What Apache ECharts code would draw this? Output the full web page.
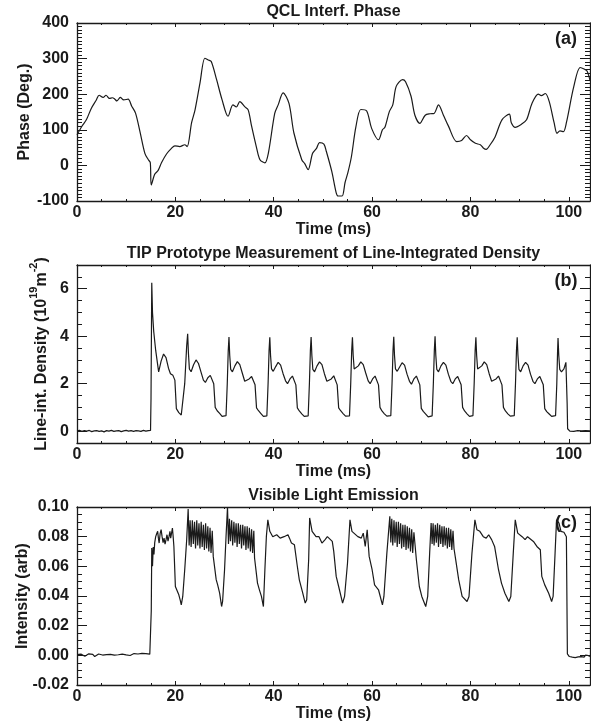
<!DOCTYPE html>
<html><head><meta charset="utf-8">
<script src="https://cdn.jsdelivr.net/npm/echarts@6/dist/echarts.min.js"></script>
<style>html,body{margin:0;padding:0;background:#fff}#c{width:591px;height:723px}</style>
</head><body><div id="c"></div>
<script>
// ---------- DATA ----------
const timeTicks = [0, 20, 40, 60, 80, 100];
const phaseTicks = [-100, 0, 100, 200, 300, 400];
const densityTicks = [0, 2, 4, 6];
const intensityTicks = [-0.02, 0, 0.02, 0.04, 0.06, 0.08, 0.10];

const titles = ['QCL Interf. Phase', 'TIP Prototype Measurement of Line-Integrated Density', 'Visible Light Emission'];
const yTitles = ['Phase (Deg.)', '{n|Line-int. Density (10}{s|19}{n|m}{s|-2}{n|)}', 'Intensity (arb)'];
const xTitle = 'Time (ms)';
const panelTags = ['(a)', '(b)', '(c)'];

// Panel (a): [time ms, phase deg]
const phaseA = [
[0,86],[1,110],[1.9,128],[2.9,160],[3.9,183],[4.5,197],[5.3,191],[5.9,197],[6.6,188],[7.2,190],
[7.7,186],[8.1,181],[8.8,191],[9.5,184],[10.4,186],[11.1,167],[11.9,147],[12.8,95],[13.8,34],[14.5,16],
[14.9,8],[15.1,-55],[15.8,-25],[16.5,-14],[17.2,8],[18.2,32],[19.2,48],[19.9,55],[20.9,53],[21.9,58],
[22.4,53],[23.3,120],[24,156],[25,231],[26,301],[26.7,296],[27.3,292],[28.4,240],[29.5,184],[30.7,138],
[31.7,170],[32.4,164],[33.1,179],[34.1,165],[34.8,156],[35.5,110],[36.5,50],[37.2,16],[38.2,7],[38.9,34],
[40.2,146],[40.9,170],[41.9,204],[43.1,174],[44.1,91],[45.7,16],[46.3,5],[47,-12],[47.9,34],[48.7,48],
[49.3,64],[50.2,60],[50.7,39],[51.8,-17],[52.7,-77],[53.1,-86],[53.9,-86],[54.5,-48],[55.1,-19],[55.8,25],
[56.7,108],[57.7,157],[58.9,153],[59.9,104],[61.3,72],[62.1,100],[62.6,107],[63.5,151],[64.2,170],[64.9,222],
[66.2,241],[66.8,235],[67.9,195],[68.7,141],[69.7,118],[70.8,141],[71.8,145],[72.6,146],[73.5,170],[74.5,141],
[75.5,111],[77.2,67],[78.2,70],[79.2,84],[80,72],[81,62],[82,58],[82.6,49],[83.2,45],[84,58],
[85,80],[86.4,128],[87.9,144],[88.3,120],[89.1,107],[90.3,115],[91.4,128],[92.5,174],[93.8,200],[94.4,196],
[95.2,202],[96,180],[97,120],[97.6,90],[98.2,97],[98.9,95],[99.5,120],[101,221],[102.3,275],[103.2,270],
[103.7,265],[104.3,239]
];

// Panel (b): [time ms, line-integrated density 1e19 m^-2]
const densityB = [
[0,0.01],[0.5,0.03],[1,-0.01],[1.5,0.02],[2,0],[2.5,0.03],[3,-0.02],[3.5,0.01],[4,0.02],[4.5,-0.01],
[5,0.01],[5.5,-0.03],[6,0.02],[6.5,0],[7,0.03],[7.5,-0.01],[8,0.01],[8.5,0.02],[9,-0.02],[9.5,0.01],
[10,0.03],[10.5,0],[11,0.02],[11.5,-0.01],[12,0.02],[12.5,0.01],[13,-0.01],[13.5,0.03],[14,0],[14.5,0.02],[14.95,0.03],
[15.05,1.4],[15.15,1.45],[15.2,6.25],[15.35,5.0],[15.6,4.2],[16.0,3.4],[16.6,2.5],[17.1,2.95],[17.6,3.25],[18.1,3.1],
[18.6,2.65],[19.0,2.42],[19.5,2.35],[19.9,2.15],[20.2,0.95],[20.7,0.78],[21.2,0.68],[21.6,0.65],[21.9,2.0],[22.3,3.6],
[22.5,4.10],[22.65,3.3],[22.85,2.62],[23.2,2.5],[23.7,2.8],[24.2,3.0],[24.7,2.85],[25.2,2.5],[25.7,2.15],[26.1,2.05],
[26.6,2.25],[27.1,2.35],[27.5,2.28],[27.8,2.0],[28.1,1.0],[28.5,0.86],[29.0,0.75],[29.5,0.62],[29.9,0.6],[30.3,0.65],[30.55,2.0],[30.75,3.4],
[30.9,3.97],[31.05,3.2],[31.25,2.6],[31.6,2.5],[32.1,2.75],[32.6,2.93],[33.1,2.8],[33.6,2.45],[34.1,2.1],[34.5,2.02],
[35.0,2.2],[35.5,2.3],[35.9,2.25],[36.2,1.95],[36.5,0.98],[36.9,0.86],[37.4,0.74],[37.9,0.62],[38.3,0.6],[38.6,0.64],[38.85,2.0],[39.05,3.4],
[39.2,3.95],[39.35,3.2],[39.55,2.62],[39.9,2.52],[40.4,2.72],[40.9,2.9],[41.4,2.78],[41.9,2.42],[42.4,2.12],[42.8,2.0],
[43.3,2.2],[43.8,2.32],[44.2,2.25],[44.5,1.95],[44.8,0.98],[45.2,0.85],[45.7,0.73],[46.2,0.62],[46.6,0.6],[47.0,0.64],[47.25,2.0],[47.45,3.4],
[47.6,3.97],[47.75,3.2],[47.95,2.6],[48.3,2.5],[48.8,2.75],[49.3,2.92],[49.8,2.8],[50.3,2.42],[50.8,2.1],[51.2,2.02],
[51.7,2.2],[52.2,2.33],[52.6,2.26],[52.9,1.95],[53.2,0.98],[53.6,0.86],[54.1,0.74],[54.6,0.63],[55.0,0.6],[55.4,0.64],[55.65,2.0],[55.85,3.4],
[56.0,3.95],[56.15,3.2],[56.35,2.62],[56.7,2.55],[57.2,2.75],[57.7,2.92],[58.2,2.8],[58.7,2.45],[59.2,2.12],[59.6,2.0],
[60.1,2.2],[60.6,2.32],[61.0,2.25],[61.3,1.95],[61.6,1.0],[62.0,0.85],[62.5,0.73],[63.0,0.63],[63.4,0.62],[63.8,0.65],[64.05,2.0],[64.25,3.4],
[64.4,3.98],[64.55,3.2],[64.75,2.62],[65.1,2.52],[65.6,2.7],[66.1,2.88],[66.6,2.78],[67.1,2.4],[67.6,2.1],[68.0,1.98],
[68.5,2.2],[69.0,2.32],[69.4,2.25],[69.7,1.95],[70.0,0.96],[70.4,0.83],[70.9,0.72],[71.4,0.6],[71.8,0.6],[72.2,0.64],[72.45,2.0],[72.65,3.4],
[72.8,4.0],[72.95,3.2],[73.15,2.6],[73.5,2.5],[74.0,2.75],[74.5,2.9],[75.0,2.78],[75.5,2.4],[76.0,2.1],[76.4,2.0],
[76.9,2.2],[77.4,2.3],[77.8,2.25],[78.1,1.95],[78.4,1.0],[78.8,0.85],[79.3,0.73],[79.8,0.62],[80.2,0.62],[80.5,0.65],[80.75,2.0],[80.95,3.4],
[81.1,3.95],[81.25,3.2],[81.45,2.62],[81.8,2.55],[82.3,2.75],[82.8,2.92],[83.3,2.8],[83.8,2.42],[84.3,2.1],[84.7,2.02],
[85.2,2.2],[85.7,2.32],[86.1,2.25],[86.4,1.95],[86.7,1.0],[87.1,0.85],[87.6,0.73],[88.1,0.63],[88.5,0.62],[88.9,0.65],[89.15,2.0],[89.35,3.4],
[89.5,3.95],[89.65,3.2],[89.85,2.6],[90.2,2.5],[90.7,2.75],[91.2,2.9],[91.7,2.78],[92.2,2.4],[92.7,2.1],[93.1,2.0],
[93.6,2.2],[94.1,2.3],[94.5,2.25],[94.8,1.95],[95.1,0.95],[95.5,0.82],[96.0,0.72],[96.5,0.62],[96.9,0.62],[97.3,0.65],[97.55,2.0],[97.7,3.3],
[97.8,3.92],[97.95,3.2],[98.15,2.6],[98.5,2.5],[99.0,2.62],[99.4,2.9],[99.55,2.85],[99.65,1.2],[99.75,0.1],[99.9,0.02],
[100.2,0],[100.6,0.02],[101.0,-0.01],[101.4,0.01],[101.8,0.02],[102.2,0],[102.6,0.01],[103.0,-0.01],[103.4,0.02],[103.8,0],[104.3,0.01]
];

// Panel (c): [time ms, intensity arb]
const intensityC = [
[0,0.0005],[0.4,-0.0003],[0.8,0.0008],[1.2,0.0001],[1.6,-0.0006],[2.0,0.0004],[2.4,0.0010],[2.8,-0.0002],[3.2,0.0006],[3.6,-0.0008],
[4.0,0.0003],[4.4,0.0009],[4.8,-0.0004],[5.2,0.0002],[5.6,-0.0009],[6.0,0.0005],[6.4,-0.0003],[6.8,0.0007],[7.2,-0.0006],[7.6,0.0001],
[8.0,-0.0010],[8.4,0.0004],[8.8,-0.0002],[9.2,0.0008],[9.6,-0.0005],[10.0,0.0003],[10.4,0.0010],[10.8,-0.0001],[11.2,0.0006],[11.6,0.0012],
[12.0,0.0002],[12.4,0.0009],[12.8,0.0004],[13.2,0.0013],[13.6,0.0006],[14.0,0.0011],[14.4,0.0003],[14.8,0.0008],[15.0,0.0004],
[15.1,0.030],[15.2,0.0723],[15.35,0.060],[15.5,0.073],[15.65,0.068],[15.8,0.076],[16.0,0.080],[16.2,0.082],[16.4,0.0836],[16.55,0.079],
[16.7,0.0757],[16.9,0.082],[17.1,0.0847],[17.3,0.080],[17.5,0.076],[17.7,0.0791],[17.9,0.075],[18.1,0.078],[18.3,0.0813],[18.5,0.077],
[18.7,0.080],[18.9,0.0836],[19.05,0.079],[19.2,0.0791],[19.4,0.0858],[19.55,0.080],[19.7,0.0734],[19.85,0.060],[20.0,0.0464],[20.2,0.047],
[20.4,0.0453],[20.7,0.0408],[21.0,0.037],[21.2,0.034],[21.5,0.0397],[21.9,0.0577],[22.3,0.0779],
[22.6,0.0986],[22.8,0.074],[23.0,0.091],[23.2,0.073],[23.45,0.091],[23.65,0.075],[23.9,0.090],[24.1,0.072],[24.35,0.091],[24.55,0.074],
[24.8,0.089],[25.0,0.072],[25.25,0.090],[25.45,0.073],[25.7,0.088],[25.9,0.071],[26.15,0.089],[26.35,0.072],[26.6,0.087],[26.8,0.070],
[27.05,0.086],[27.25,0.069],[27.5,0.084],[27.7,0.0667],
[28.3,0.051],[28.6,0.0475],[29.0,0.0419],[29.4,0.0329],[29.6,0.0363],[30.0,0.0577],[30.3,0.080],
[30.6,0.100],[30.8,0.075],[31.0,0.092],[31.2,0.077],[31.45,0.091],[31.65,0.074],[31.9,0.090],[32.1,0.076],[32.35,0.089],[32.55,0.073],
[32.8,0.089],[33.0,0.075],[33.25,0.088],[33.45,0.072],[33.7,0.088],[33.9,0.074],[34.15,0.087],[34.35,0.071],[34.6,0.087],[34.8,0.072],
[35.05,0.086],[35.25,0.070],[35.5,0.085],[35.7,0.069],[35.95,0.084],[36.1,0.0656],
[36.7,0.0487],[37.1,0.044],[37.5,0.0397],[37.9,0.0329],[38.2,0.0577],[38.5,0.080],
[38.8,0.0914],[39.2,0.0836],[39.8,0.080],[40.6,0.0813],[41.3,0.079],[42.1,0.080],[42.9,0.0813],[43.2,0.079],[43.6,0.0757],[44.2,0.0746],
[44.5,0.0746],[44.8,0.0599],[45.2,0.0509],[45.9,0.0419],[46.4,0.0352],[46.7,0.0374],[47.1,0.0644],
[47.3,0.0926],[47.8,0.0836],[48.6,0.080],[49.2,0.080],[49.8,0.0757],[50.4,0.0779],[50.9,0.080],[51.3,0.080],[51.9,0.0768],[52.2,0.0701],
[52.7,0.0532],[53.2,0.0464],[54.0,0.0352],[54.4,0.0397],[55.0,0.0622],
[55.5,0.0914],[55.9,0.0836],[56.3,0.0824],[57.1,0.080],[57.8,0.079],[58.2,0.0824],[58.6,0.0734],[59.0,0.0847],[59.4,0.0667],[60.0,0.0577],
[60.5,0.0475],[61.3,0.0442],[62.1,0.034],[62.4,0.0397],[63.0,0.0689],
[63.6,0.0937],[63.8,0.076],[64.0,0.092],[64.2,0.074],[64.45,0.091],[64.65,0.076],[64.9,0.090],[65.1,0.073],[65.35,0.090],[65.55,0.075],
[65.8,0.089],[66.0,0.072],[66.25,0.088],[66.45,0.073],[66.7,0.088],[66.9,0.071],[67.15,0.087],[67.35,0.072],[67.6,0.086],[67.8,0.070],
[68.05,0.085],[68.25,0.069],[68.5,0.083],
[69.0,0.0644],[69.6,0.0464],[70.1,0.0397],[70.9,0.0329],[71.3,0.0397],[71.7,0.0689],
[72.0,0.0892],[72.2,0.075],[72.4,0.089],[72.6,0.074],[72.85,0.088],[73.05,0.076],[73.3,0.089],[73.5,0.073],[73.75,0.088],[73.95,0.075],
[74.2,0.087],[74.4,0.073],[74.65,0.087],[74.85,0.074],[75.1,0.086],[75.3,0.072],[75.55,0.086],[75.75,0.073],[76.0,0.085],[76.2,0.071],
[76.45,0.084],[76.65,0.072],
[77.0,0.0644],[77.6,0.051],[78.3,0.0397],[79.3,0.0363],[79.7,0.0397],[80.3,0.0689],
[80.9,0.0914],[81.3,0.0847],[81.9,0.0836],[82.6,0.080],[83.2,0.079],[83.7,0.0813],[84.3,0.078],[84.9,0.0734],[85.3,0.0746],[85.7,0.0577],
[86.3,0.0487],[87.0,0.0419],[87.8,0.0363],[88.2,0.0397],[88.7,0.0689],
[89.1,0.0914],[89.6,0.0824],[90.5,0.080],[91.1,0.078],[91.6,0.080],[92.0,0.079],[92.8,0.0768],[93.5,0.0734],[94.2,0.0712],[94.5,0.0532],
[95.1,0.0475],[95.9,0.0419],[96.5,0.0363],[96.8,0.0397],[97.2,0.0689],
[97.5,0.0914],[98.0,0.0892],[98.4,0.0836],[99.0,0.083],[99.3,0.0824],[99.5,0.080],[99.7,0.001],
[99.85,-0.0002],[100.1,-0.0008],[100.4,0.0003],[100.7,-0.0012],[101.0,-0.0005],[101.3,-0.0015],[101.6,-0.0004],[101.9,-0.0010],[102.2,0.0001],
[102.5,-0.0009],[102.8,-0.0003],[103.1,-0.0012],[103.4,0.0002],[103.7,-0.0006],[104.0,-0.0002],[104.3,-0.0007]
];

// ---------- LAYOUT / STYLE ----------
const FONT = 'Liberation Sans';
const INK = '#1a1a1a';
const GL = 77, GW = 513, GH = 178;
const gridTops = [23, 265, 507];
const yTitleX = [25, 39, 23];
const xMax = 104.3;

function minors(min, max, step, majors) {
  const out = [];
  const n = Math.round((max - min) / step);
  for (let k = 0; k <= n; k++) {
    const v = +(min + k * step).toFixed(6);
    if (!majors.some(m => Math.abs(m - v) < step / 100)) out.push(v);
  }
  return out;
}

const panels = [
  { ymin: -100, ymax: 400, major: phaseTicks, minor: minors(-100, 400, 10, phaseTicks), fmt: v => String(Math.round(v)),
    data: phaseA, smooth: 0.3 },
  { ymin: -0.5, ymax: 7, major: densityTicks, minor: minors(-0.5, 7, 0.5, densityTicks), fmt: v => String(Math.round(v)),
    data: densityB, smooth: false },
  { ymin: -0.02, ymax: 0.10, major: intensityTicks, minor: minors(-0.02, 0.10, 0.005, intensityTicks), fmt: v => v.toFixed(2),
    data: intensityC, smooth: false }
];
const xMinor = minors(0, 100, 5, timeTicks);

const labelStyle = { color: INK, fontFamily: FONT, fontWeight: 'bold', fontSize: 16 };

function mkAxis(gi, pos, min, max, ticks, len, line, label) {
  const a = {
    type: 'value', gridIndex: gi, position: pos, min: min, max: max,
    axisLine: { show: line, onZero: false, lineStyle: { color: INK, width: 1.3 } },
    axisTick: { show: true, inside: true, length: len, customValues: ticks, lineStyle: { color: INK, width: 1 } },
    axisLabel: { show: false },
    splitLine: { show: false }
  };
  if (label) Object.assign(a, label);
  return a;
}

const grids = [], xAxes = [], yAxes = [], series = [], graphics = [];
panels.forEach((p, gi) => {
  grids.push({ left: GL, top: gridTops[gi], width: GW, height: GH, containLabel: false });
  xAxes.push(mkAxis(gi, 'bottom', 0, xMax, timeTicks, 4, true, {
    axisLabel: Object.assign({ show: true, customValues: timeTicks, margin: 4, formatter: v => String(Math.round(v)) }, labelStyle),
    name: xTitle, nameLocation: 'middle', nameGap: 16, nameTextStyle: Object.assign({}, labelStyle)
  }));
  xAxes.push(mkAxis(gi, 'bottom', 0, xMax, xMinor, 2, false));
  xAxes.push(mkAxis(gi, 'top', 0, xMax, timeTicks, 4, true));
  xAxes.push(mkAxis(gi, 'top', 0, xMax, xMinor, 2, false));

  yAxes.push(mkAxis(gi, 'left', p.ymin, p.ymax, p.major, 10, true, {
    axisLabel: Object.assign({ show: true, customValues: p.major, margin: 8, formatter: p.fmt }, labelStyle)
  }));
  yAxes.push(mkAxis(gi, 'left', p.ymin, p.ymax, p.minor, 5, false));
  yAxes.push(mkAxis(gi, 'right', p.ymin, p.ymax, p.major, 10, true));
  yAxes.push(mkAxis(gi, 'right', p.ymin, p.ymax, p.minor, 5, false));

  series.push({
    type: 'line', xAxisIndex: gi * 4, yAxisIndex: gi * 4, data: p.data, smooth: p.smooth,
    showSymbol: false, symbol: 'none', lineStyle: { color: INK, width: 1.2 }, animation: false
  });

  const top = gridTops[gi];
  graphics.push({ type: 'text', x: GL + GW / 2, y: top - 11.5,
    style: { text: titles[gi], font: 'bold 16px "Liberation Sans"', fill: INK, align: 'center', verticalAlign: 'middle' } });
  graphics.push({ type: 'text', x: 566, y: top + 16,
    style: { text: panelTags[gi], font: 'bold 18px "Liberation Sans"', fill: INK, align: 'center', verticalAlign: 'middle' } });
  const ys = { text: yTitles[gi], font: 'bold 16px "Liberation Sans"', fill: INK, align: 'center', verticalAlign: 'middle' };
  if (gi === 1) {
    ys.rich = {
      n: { fontFamily: FONT, fontWeight: 'bold', fontSize: 16, fill: INK, lineHeight: 22, verticalAlign: 'bottom' },
      s: { fontFamily: FONT, fontWeight: 'bold', fontSize: 11, fill: INK, lineHeight: 22, verticalAlign: 'top' }
    };
  }
  graphics.push({ type: 'text', x: yTitleX[gi], y: top + GH / 2, rotation: Math.PI / 2, style: ys });
});

const chart = echarts.init(document.getElementById('c'), null, { renderer: 'canvas' });
chart.setOption({
  animation: false,
  backgroundColor: '#ffffff',
  grid: grids, xAxis: xAxes, yAxis: yAxes, series: series,
  graphic: graphics
});
</script></body></html>
